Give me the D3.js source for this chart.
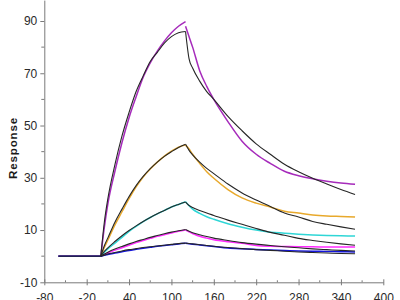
<!DOCTYPE html>
<html>
<head>
<meta charset="utf-8">
<script src="https://cdn.jsdelivr.net/npm/d3@7"></script>
<style>
  html, body { margin: 0; padding: 0; background: #fff; }
  svg { display: block; }
</style>
</head>
<body>
<div id="chart"></div>
<script>
// Sample times (s) for the association and dissociation phases
const assocTime = [0, 5, 10, 20, 30, 40, 50, 60, 70, 80, 90, 100, 110, 120];
const dissocTime = [120, 125, 130, 140, 150, 160, 180, 200, 220, 240, 260, 280, 300, 320, 340, 360];
const baselineTime = [-60, 0];
const baselineValue = [0, 0];

// Measured responses, highest concentration first
const measAssoc1 = [0, 11, 20, 32.5, 43.5, 53, 61, 68.5, 74, 78.5, 82.3, 85.5, 88, 89.8];
const measDissoc1 = [88, 84, 80, 71, 65, 60, 51.5, 44, 39, 35.5, 32.5, 30.8, 29.6, 28.7, 28, 27.5];
const measAssoc2 = [0, 3.3, 6.2, 12, 17, 22, 26.5, 30.3, 33.4, 36, 38.3, 40.2, 41.7, 42.6];
const measDissoc2 = [42.5, 41, 39, 35.5, 32.3, 29.8, 25.5, 22.3, 20.3, 18.8, 17.2, 16.5, 15.8, 15.4, 15.2, 15];
const measAssoc3 = [0, 1.5, 2.8, 5, 7.2, 9.5, 11.4, 13.2, 14.8, 16.2, 17.5, 18.8, 19.8, 20.8];
const measDissoc3 = [20.8, 19.3, 18, 16.4, 15.1, 14.1, 12.4, 11.1, 10, 9.2, 8.8, 8.4, 8.1, 7.9, 7.8, 7.7];
const measAssoc4 = [0, 0.6, 1.2, 2.3, 3.2, 4.2, 5.2, 6, 6.8, 7.6, 8.2, 8.9, 9.5, 10];
const measDissoc4 = [10, 9.3, 8.7, 7.6, 6.9, 6.3, 5.5, 4.9, 4.1, 3.8, 3.7, 3.6, 3.6, 3.5, 3.5, 3.5];
const measAssoc5 = [0, 0.3, 0.6, 1.2, 1.7, 2.2, 2.6, 3, 3.4, 3.8, 4.1, 4.4, 4.7, 4.9];
const measDissoc5 = [4.9, 4.75, 4.6, 4.3, 4, 3.7, 3.1, 2.8, 2.6, 2.4, 2.2, 2, 1.9, 1.8, 1.7, 1.6];

// Fitted curves
const fitAssoc1 = [0, 13, 22, 35, 46, 55, 63, 69, 74.5, 78, 81.5, 84, 85.5, 86];
const fitDissoc1 = [86, 75.5, 72, 67, 63, 60, 53.5, 48, 43, 39, 35.2, 32.3, 29.8, 27.6, 25.5, 23.6];
const fitAssoc2 = [0, 4, 7, 13, 18, 22.8, 27, 30.5, 33.5, 36, 38.2, 40, 41.6, 42.8];
const fitDissoc2 = [42.8, 40.5, 38.8, 36, 33.6, 31.6, 27.6, 24.2, 21.5, 19, 16.5, 15, 13.3, 12.2, 11.2, 10.3];
const fitAssoc3 = [0, 1.8, 3.2, 5.6, 7.8, 9.8, 11.6, 13.3, 14.8, 16.2, 17.5, 18.8, 19.8, 20.7];
const fitDissoc3 = [20.7, 19.4, 18.6, 17.5, 16.5, 15.6, 13.8, 12.2, 10.6, 9.1, 8, 6.8, 6, 5.3, 4.7, 4.2];
const fitAssoc4 = [0, 0.8, 1.5, 2.7, 3.7, 4.7, 5.6, 6.4, 7.2, 7.9, 8.6, 9.2, 9.7, 10.2];
const fitDissoc4 = [10.2, 9.5, 9, 8.2, 7.5, 6.9, 6, 5.2, 4.6, 4.1, 3.6, 3.2, 2.8, 2.5, 2.2, 2];
const fitAssoc5 = [0, 0.4, 0.8, 1.4, 2, 2.5, 2.9, 3.3, 3.6, 3.9, 4.2, 4.5, 4.8, 5];
const fitDissoc5 = [5, 4.85, 4.7, 4.4, 4.1, 3.8, 3.3, 2.9, 2.5, 2.2, 1.9, 1.6, 1.4, 1.2, 1, 0.9];

// Axis ticks
const xTicks = [-80, -20, 40, 100, 160, 220, 280, 340, 400];
const xMinorTicks = [-50, 10, 70, 130, 190, 250, 310, 370];
const yTicks = [-10, 10, 30, 50, 70, 90];
const yMinorTicks = [0, 20, 40, 60, 80];

const measColors = ["#a62bbb", "#e8a92c", "#2fd6d6", "#ff2bff", "#1414dc"];
const fitColor = "#262626";

const measured = [
  [measAssoc1, measDissoc1], [measAssoc2, measDissoc2], [measAssoc3, measDissoc3],
  [measAssoc4, measDissoc4], [measAssoc5, measDissoc5]
];
const fits = [
  [fitAssoc1, fitDissoc1], [fitAssoc2, fitDissoc2], [fitAssoc3, fitDissoc3],
  [fitAssoc4, fitDissoc4], [fitAssoc5, fitDissoc5]
];

const width = 400, height = 300;
const svg = d3.select("#chart").append("svg")
  .attr("width", width)
  .attr("height", height);

const x = d3.scaleLinear().domain([-80, 400]).range([44.3, 383.3]);
const y = d3.scaleLinear().domain([-10, 98]).range([282.3, 0.1]);

const axisColor = "#7a7a7a";
const tickFont = "'Liberation Sans Narrow', 'Arial Narrow', 'Liberation Sans', sans-serif";
const plainFormat = d => String(d);

// x axis
const xAxis = svg.append("g")
  .attr("transform", `translate(0,${y(-10)})`)
  .call(d3.axisBottom(x).tickValues(xTicks).tickFormat(plainFormat)
    .tickSize(3).tickSizeOuter(0).tickPadding(8));
xAxis.selectAll(".tick line").attr("y1", -3);
xAxis.append("g").selectAll("line")
  .data(xMinorTicks)
  .join("line")
  .attr("x1", d => x(d)).attr("x2", d => x(d))
  .attr("y1", -2).attr("y2", 0)
  .attr("stroke", axisColor);

// y axis
const yAxis = svg.append("g")
  .attr("transform", `translate(${x(-80)},0)`)
  .call(d3.axisLeft(y).tickValues(yTicks).tickFormat(plainFormat)
    .tickSize(4).tickSizeOuter(0).tickPadding(3));
yAxis.append("g").selectAll("line")
  .data(yMinorTicks)
  .join("line")
  .attr("y1", d => y(d)).attr("y2", d => y(d))
  .attr("x1", -3).attr("x2", 0)
  .attr("stroke", axisColor);

svg.selectAll(".domain, .tick line").attr("stroke", axisColor);
svg.selectAll(".tick text")
  .attr("fill", "#2a2a2a")
  .style("font-family", tickFont)
  .style("font-size", "12px");

// axis title
svg.append("text")
  .attr("transform", `translate(16.5,148) rotate(-90)`)
  .attr("text-anchor", "middle")
  .style("font-family", "'Liberation Sans', Arial, sans-serif")
  .style("font-size", "11.5px")
  .style("font-weight", "bold")
  .style("letter-spacing", "0.9px")
  .attr("fill", "#1a1a1a")
  .text("Response");

const line = d3.line()
  .x(d => x(d[0]))
  .y(d => y(d[1]))
  .curve(d3.curveMonotoneX);

const zipPts = (times, vals) => times.map((t, i) => [t, vals[i]]);

const curves = svg.append("g").attr("fill", "none");

// measured traces
measured.forEach((m, i) => {
  [zipPts(baselineTime, baselineValue), zipPts(assocTime, m[0]), zipPts(dissocTime, m[1])]
    .forEach(pts => {
      curves.append("path")
        .attr("d", line(pts))
        .attr("stroke", measColors[i])
        .attr("stroke-width", 1.5);
    });
});

// fitted curves on top
fits.forEach(f => {
  [zipPts(assocTime, f[0]), zipPts(dissocTime, f[1])].forEach(pts => {
    curves.append("path")
      .attr("d", line(pts))
      .attr("stroke", fitColor)
      .attr("stroke-width", 1.1);
  });
});

curves.append("path")
  .attr("d", line(zipPts(baselineTime, baselineValue)))
  .attr("stroke", fitColor)
  .attr("stroke-width", 1.3);
</script>
</body>
</html>
